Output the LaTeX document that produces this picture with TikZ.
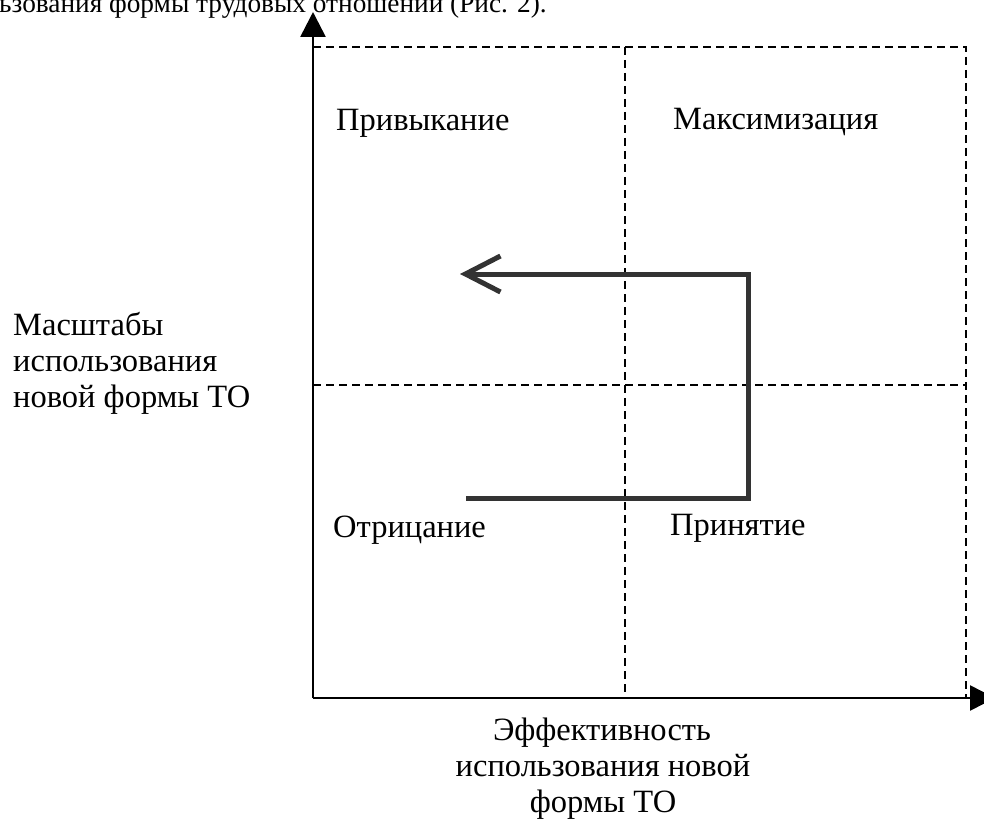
\documentclass[tikz,border=0pt]{standalone}
\usepackage{fontspec}
\setmainfont{Liberation Serif}
\usetikzlibrary{arrows.meta}
\begin{document}
\begin{tikzpicture}[x=1pt,y=-1pt,
  lbl/.style={font=\fontsize{32.5}{36}\selectfont, inner sep=0pt, text=black},
  toptxt/.style={font=\fontsize{27.3}{30}\selectfont, inner sep=0pt, text=black},
  axisline/.style={line width=2.6pt, -{Triangle[length=25pt,width=25pt]}},
  border/.style={line width=2.4pt, dash pattern=on 8pt off 5pt},
  gridline/.style={line width=1.8pt, dash pattern=on 8pt off 5pt},
  flow/.style={line width=5pt, draw=black!80, line join=miter},
]
\useasboundingbox (0,0) rectangle (984,821);
% coordinates
\coordinate (O) at (313,698);
\coordinate (ytip) at (313,12);
\coordinate (xtip) at (995,698);
\coordinate (TL) at (313,47);
\coordinate (TR) at (966,47);
\coordinate (BR) at (966,698);
\coordinate (MT) at (625,47);
\coordinate (MB) at (625,698);
\coordinate (ML) at (313,385);
\coordinate (MR) at (966,385);
\coordinate (f0) at (466,498);
\coordinate (f1) at (748,498);
\coordinate (f2) at (748,274);
\coordinate (f3) at (460,274);
% dashed frame and grid
\draw[border] (TL) -- (TR) -- (BR);
\draw[gridline] (MT) -- (MB);
\draw[gridline] (ML) -- (MR);
% axes
\draw[axisline] (O) -- (ytip);
\draw[axisline] (O) -- (xtip);
% flow path
\draw[flow, -{Straight Barb[length=35pt,width=36pt]}] (f0) -- (f1) -- (f2) -- (f3);
% texts
\node[toptxt, anchor=base west] (top) at (-1,13) {ьзования формы трудовых отношений (Рис. 2).};
\node[lbl, anchor=base west] (q1) at (336,131) {Привыкание};
\node[lbl, anchor=base west] (q2) at (673,130) {Максимизация};
\node[lbl, anchor=base west] (q3) at (333,537) {Отрицание};
\node[lbl, anchor=base west] (q4) at (670,535) {Принятие};
\node[lbl, anchor=base west] (y1) at (13,335) {Масштабы};
\node[lbl, anchor=base west] (y2) at (13,371) {использования};
\node[lbl, anchor=base west] (y3) at (13,407) {новой формы ТО};
\node[lbl, anchor=base] (x1) at (602,740) {Эффективность};
\node[lbl, anchor=base] (x2) at (603,776) {использования новой};
\node[lbl, anchor=base] (x3) at (603,812) {формы ТО};
\end{tikzpicture}
\end{document}
